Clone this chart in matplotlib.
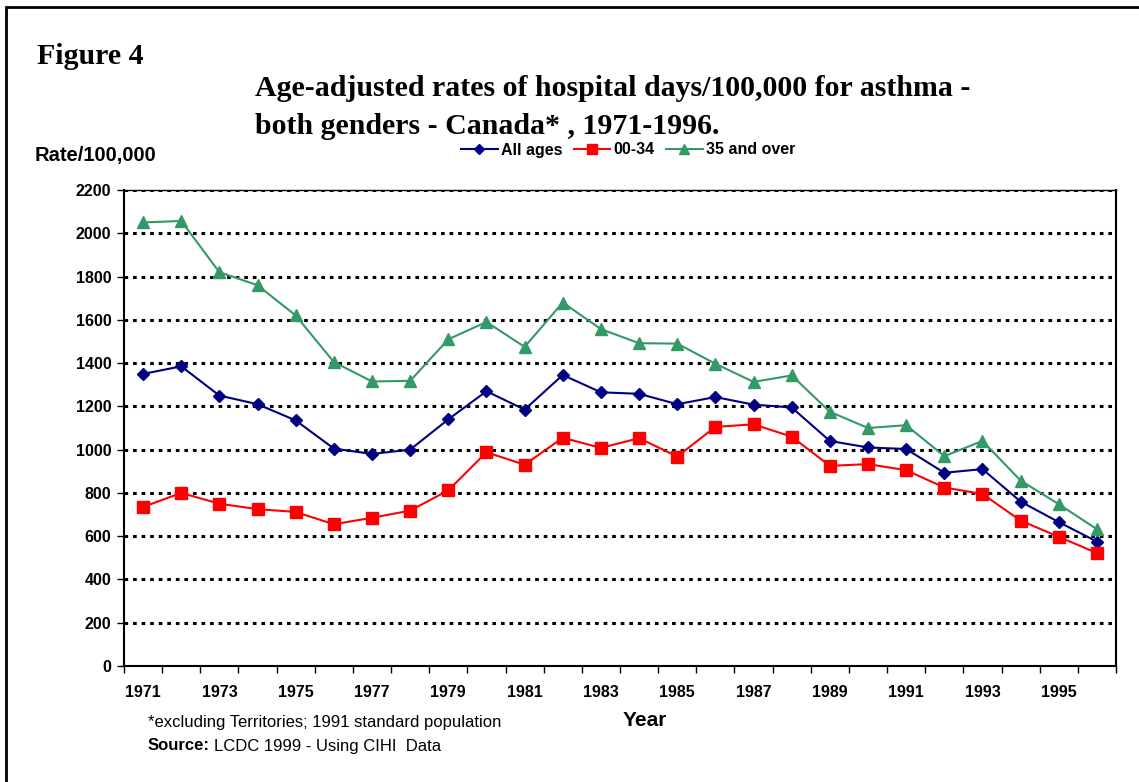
import matplotlib.pyplot as plt
from matplotlib.patches import Rectangle
from matplotlib.lines import Line2D

years = list(range(1971, 1997))
all_ages = [1350, 1385, 1250, 1210, 1135, 1005, 980, 1000, 1140, 1270, 1185, 1345, 1265,
            1258, 1210, 1243, 1208, 1195, 1040, 1010, 1003, 893, 910, 760, 665, 575]
age_00_34 = [735, 800, 750, 725, 712, 655, 685, 718, 812, 988, 930, 1055, 1008,
             1053, 968, 1105, 1117, 1060, 925, 933, 905, 825, 795, 672, 597, 522]
age_35_over = [2050, 2057, 1820, 1760, 1620, 1405, 1315, 1318, 1510, 1590, 1475, 1680, 1557,
               1492, 1490, 1397, 1313, 1343, 1175, 1100, 1113, 970, 1040, 857, 748, 632]
yticks = list(range(0, 2201, 200))

W, H = 1139, 782
fig = plt.figure(figsize=(W / 100, H / 100), dpi=100)

def fx(px):
    return px / W

def fy(py):
    return 1 - py / H

# outer frame (right and bottom edges fall outside the picture)
fig.patches.append(Rectangle((fx(6), fy(H + 20)), fx(W + 40), fy(7) - fy(H + 20),
                             transform=fig.transFigure, fill=False, lw=2, ec='black'))

ax = fig.add_axes([fx(124), fy(666), fx(1116 - 124), fy(190) - fy(666)])

x = list(range(len(years)))
ax.plot(x, all_ages, color='#000080', marker='D', ms=6, lw=1.5, label='All ages', zorder=3)
ax.plot(x, age_00_34, color='#FF0000', marker='s', ms=8, lw=1.5, label='00-34', zorder=3)
ax.plot(x, age_35_over, color='#339966', marker='^', ms=8, lw=1.5, label='35 and over', zorder=3)

tick_font = {'family': 'Liberation Sans', 'weight': 'bold', 'size': 11.5}

ax.set_xlim(-0.5, len(years) - 0.5)
ax.set_ylim(0, 2200)
ax.set_yticks(yticks)
ax.set_yticklabels([str(v) for v in yticks], fontdict=tick_font)
for v in yticks[1:]:
    ax.axhline(v, color='black', lw=2.2, ls=(0, (1.2, 1.6)), zorder=1)

ax.set_xticks([i - 0.5 for i in range(len(years) + 1)])
ax.set_xticklabels([])
ax.set_xticks(x[::2], minor=True)
ax.set_xticklabels([str(y) for y in years[::2]], minor=True, fontdict=tick_font)
ax.tick_params(axis='x', which='minor', length=0, pad=14)
ax.tick_params(axis='x', which='major', length=5, width=1)
ax.tick_params(axis='y', length=5, width=1, pad=4)
for s in ax.spines.values():
    s.set_linewidth(1.5)
ax.spines['top'].set_linewidth(1)

handles = [Line2D([], [], color='#000080', marker='D', ms=5, lw=1.5),
           Line2D([], [], color='#FF0000', marker='s', ms=7, lw=1.5),
           Line2D([], [], color='#339966', marker='^', ms=7, lw=1.5)]
fig.legend(handles, ['All ages', '00-34', '35 and over'], loc='center',
           bbox_to_anchor=(fx(628), fy(150)), ncol=3, frameon=False, handlelength=2.3,
           handletextpad=0.2, columnspacing=0.7,
           prop={'family': 'Liberation Sans', 'weight': 'bold', 'size': 11.5})

fig.text(fx(37), fy(57), 'Figure 4', fontsize=21.5, fontweight='bold',
         family='Liberation Serif', va='center', ha='left')
fig.text(fx(255), fy(88), 'Age-adjusted rates of hospital days/100,000 for asthma -',
         fontsize=21.5, fontweight='bold', family='Liberation Serif', va='center', ha='left')
fig.text(fx(255), fy(126), 'both genders - Canada* , 1971-1996.',
         fontsize=21.5, fontweight='bold', family='Liberation Serif', va='center', ha='left')
fig.text(fx(35), fy(156), 'Rate/100,000', fontsize=14.5, fontweight='bold',
         family='Liberation Sans', va='center', ha='left')
fig.text(fx(645), fy(720), 'Year', fontsize=15, fontweight='bold',
         family='Liberation Sans', va='center', ha='center')
fig.text(fx(148), fy(723), '*excluding Territories; 1991 standard population', fontsize=12,
         family='Liberation Sans', va='center', ha='left')
src = fig.text(fx(148), fy(746), 'Source:', fontsize=12, fontweight='bold',
               family='Liberation Sans', va='center', ha='left')
fig.canvas.draw()
bb = src.get_window_extent()
fig.text(bb.x1 / W + fx(4), fy(746), 'LCDC 1999 - Using CIHI  Data', fontsize=12,
         family='Liberation Sans', va='center', ha='left')

fig.savefig('out.png', dpi=100)
